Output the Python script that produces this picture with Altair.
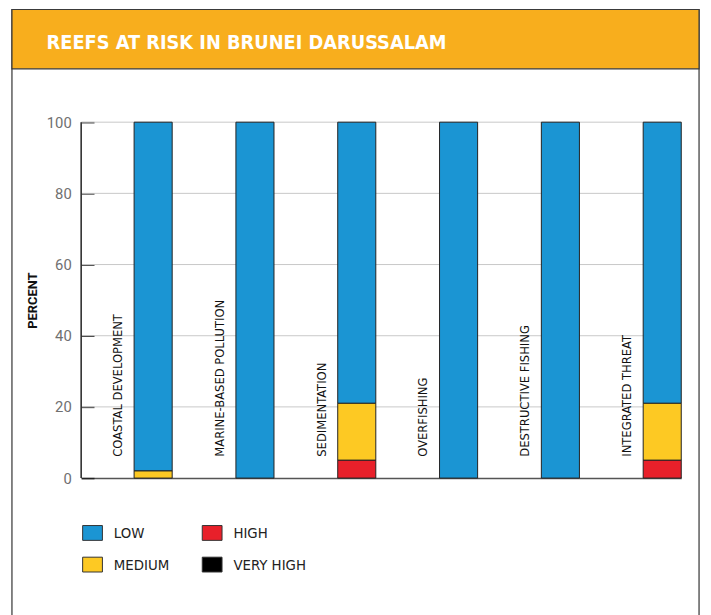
import altair as alt
import pandas as pd

# ---- data ----
categories = ["COASTAL DEVELOPMENT", "MARINE-BASED POLLUTION", "SEDIMENTATION",
              "OVERFISHING", "DESTRUCTIVE FISHING", "INTEGRATED THREAT"]
low = [98, 100, 79, 100, 100, 79]
medium = [2, 0, 16, 0, 0, 16]
high = [0, 0, 5, 0, 0, 5]
very_high = [0, 0, 0, 0, 0, 0]
levels = ["LOW", "MEDIUM", "HIGH", "VERY HIGH"]
level_colors = ["#1B95D3", "#FDC923", "#E8202A", "#000000"]
y_ticks = [0, 20, 40, 60, 80, 100]
grid_ticks = [20, 40, 60, 80, 100]
title_text = "REEFS AT RISK IN BRUNEI DARUSSALAM"
y_title = "PERCENT"

NARROW = "DejaVu Sans Condensed, Liberation Sans Narrow, Arial Narrow, sans-serif"

series = {"LOW": low, "MEDIUM": medium, "HIGH": high, "VERY HIGH": very_high}
stack_rank = {"VERY HIGH": 0, "HIGH": 1, "MEDIUM": 2, "LOW": 3}
rows = []
for lvl in levels:
    for cat, v in zip(categories, series[lvl]):
        rows.append({"category": cat, "level": lvl, "value": v, "rank": stack_rank[lvl]})
df = pd.DataFrame(rows)

W, H = 607, 360

x_scale = alt.Scale(paddingInner=0.626, paddingOuter=0.26, align=1)
y_scale = alt.Scale(domain=[0, 100], nice=False)
y_axis = alt.Axis(values=y_ticks, offset=-13, domain=False, grid=False,
                  tickSize=13, tickColor="#222222", tickWidth=1.5,
                  labelPadding=10, labelFont="Roboto", labelFontSize=15,
                  labelColor="#707070", title=y_title, titleFont="Roboto",
                  titleFontWeight="bold", titleFontSize=13, titleColor="#111111",
                  titlePadding=7)

one = alt.Data(values=[{"k": 1}])

frame = alt.Chart(one).mark_rect(filled=False, stroke="#333333", strokeWidth=1.2).encode(
    x=alt.value(-70), x2=alt.value(625), y=alt.value(-114), y2=alt.value(600)
)
header = alt.Chart(one).mark_rect(fill="#F8AE1D", stroke="#3a3a3a", strokeWidth=1.2).encode(
    x=alt.value(-70), x2=alt.value(625), y=alt.value(-114), y2=alt.value(-54)
)
title = alt.Chart(one).mark_text(
    text=title_text, align="left", baseline="alphabetic", fontSize=20,
    fontWeight="bold", color="white", font=NARROW
).encode(x=alt.value(-35), y=alt.value(-74))

grid = alt.Chart(pd.DataFrame({"value": grid_ticks})).mark_rule(
    color="#c8c8c8", strokeWidth=1
).encode(y=alt.Y("value:Q", scale=y_scale, axis=y_axis))

bars = alt.Chart(df).transform_filter("datum.value > 0").mark_bar(
    stroke="#222222", strokeWidth=1
).encode(
    x=alt.X("category:N", sort=categories, scale=x_scale,
            axis=alt.Axis(labels=False, ticks=False, title=None, grid=False,
                          domainColor="#555555", domainWidth=1.5)),
    y=alt.Y("value:Q", stack="zero", scale=y_scale, axis=y_axis),
    color=alt.Color("level:N", scale=alt.Scale(domain=levels, range=level_colors),
                    legend=alt.Legend(orient="none", legendX=1, legendY=405, columns=2,
                                      title=None, symbolType="M-1,-0.75H1V0.75H-1Z",
                                      symbolSize=400, symbolStrokeColor="#333333",
                                      symbolStrokeWidth=1, symbolOpacity=1,
                                      labelFontSize=15, labelFont=NARROW, labelColor="#222222",
                                      labelOffset=11, rowPadding=12, columnPadding=30)),
    order=alt.Order("rank:Q", sort="ascending"),
)

labels = alt.Chart(pd.DataFrame({"category": categories})).mark_text(
    angle=270, align="left", baseline="middle", xOffset=-35.5,
    fontSize=13, font=NARROW, color="#111111"
).encode(
    x=alt.X("category:N", sort=categories, scale=x_scale),
    y=alt.datum(6),
    text="category:N",
)

left_line = alt.Chart(one).mark_rule(color="#222222", strokeWidth=1.5).encode(
    x=alt.value(0), y=alt.value(0), y2=alt.value(H)
)

chart = alt.layer(frame, header, title, grid, bars, labels, left_line).properties(
    width=W, height=H, autosize="none",
    padding={"left": 74, "top": 112, "right": 22, "bottom": 135},
    background="white",
).configure_view(stroke=None)

chart.save("out.html", embed_options={"renderer": "svg", "actions": False})
